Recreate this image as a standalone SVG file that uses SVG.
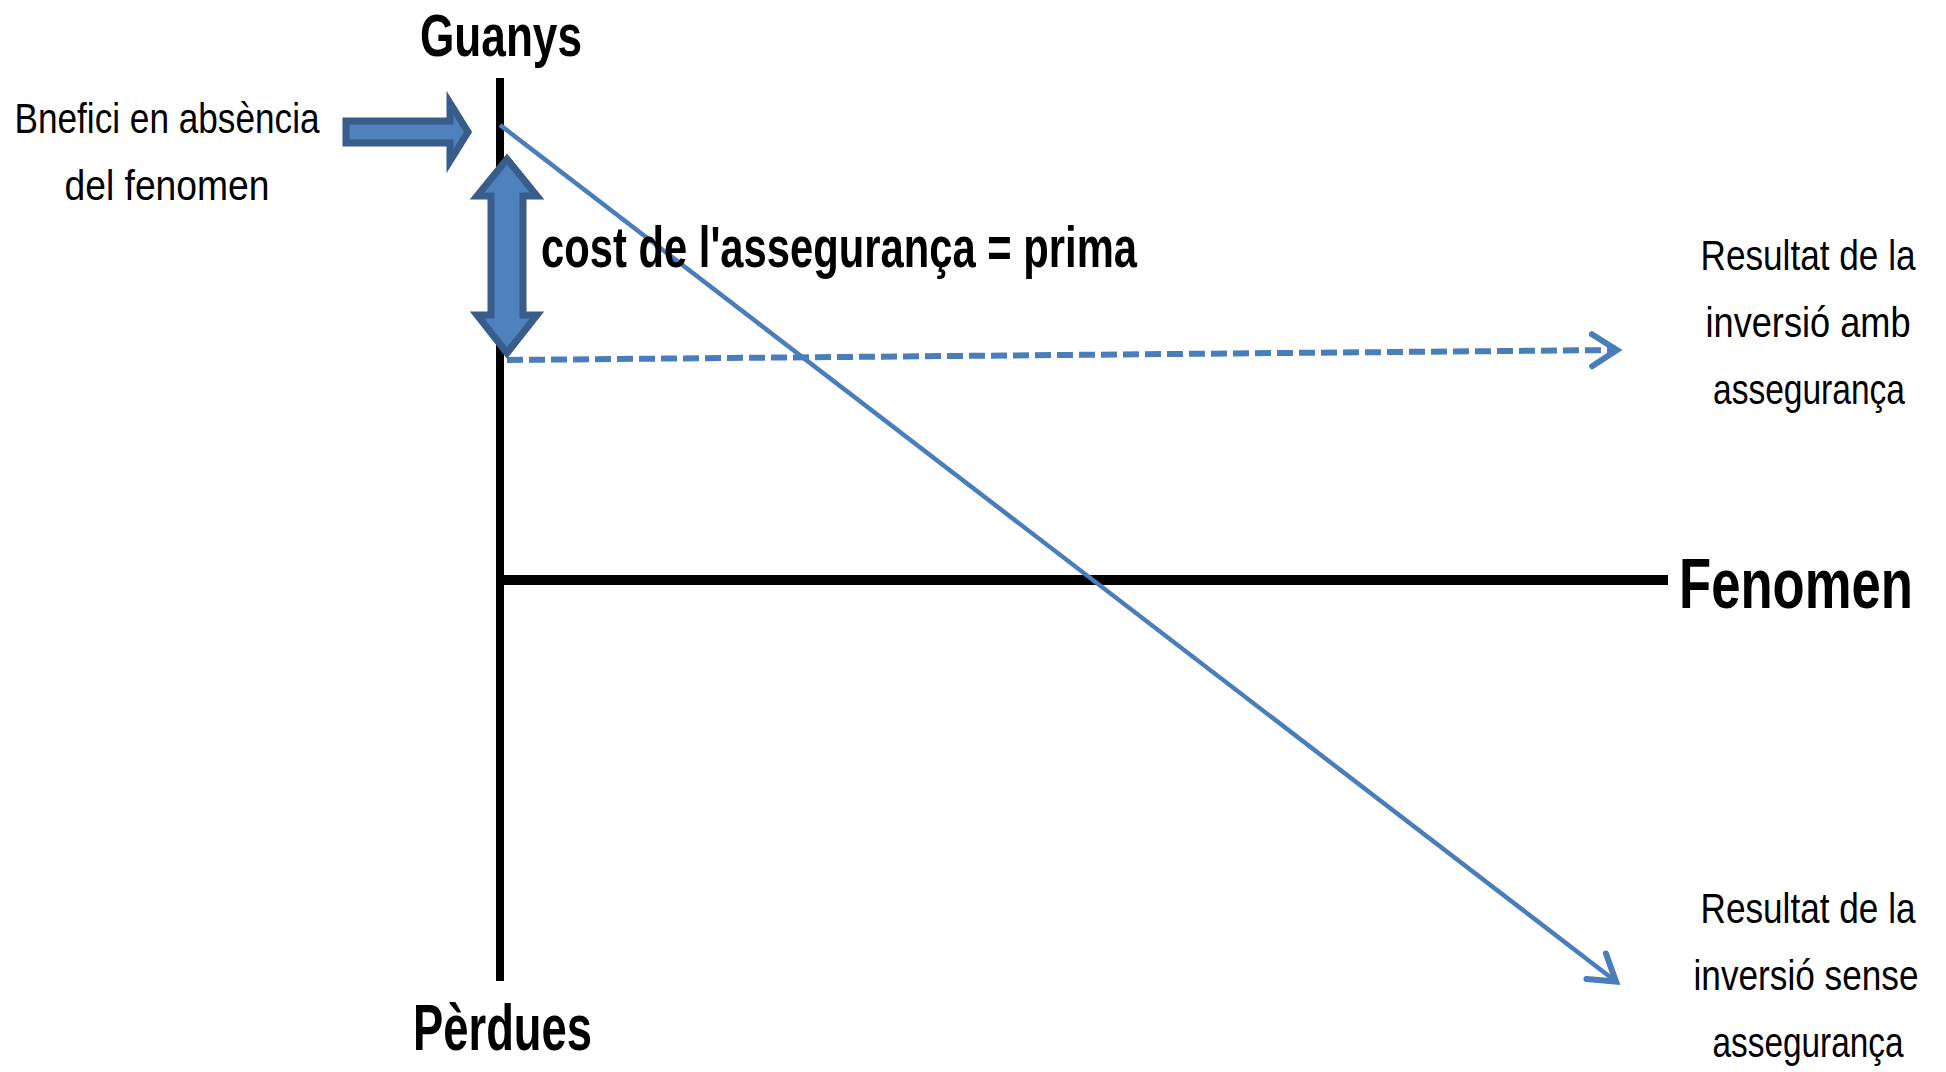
<svg xmlns="http://www.w3.org/2000/svg" width="1946" height="1072" viewBox="0 0 1946 1072">
  <style>
    .bold { font-family: "Liberation Sans", Arial, sans-serif; font-weight: bold; fill: #000; }
    .reg { font-family: "Liberation Sans", Arial, sans-serif; font-size: 35px; fill: #000; text-anchor: middle; }
    .axis { stroke: #000; fill: none; }
    .conn { stroke: #4A7EBB; fill: none; }
    .block { fill: #4F81BD; stroke: #385D8A; stroke-width: 7; stroke-linejoin: miter; }
  </style>
  <defs>
    <marker id="open" markerUnits="userSpaceOnUse" viewBox="-30 -20 34 40" refX="0" refY="0" markerWidth="34" markerHeight="40" orient="auto" overflow="visible">
      <path d="M-25,-16 L0,0 L-25,16" fill="none" stroke="#4A7EBB" stroke-width="6" stroke-linecap="round" stroke-linejoin="miter"/>
    </marker>
  </defs>
  <rect width="1946" height="1072" fill="#fff"/>

  <g id="axes">
    <line class="axis" x1="500" y1="78" x2="500" y2="981" stroke-width="8"/>
    <line class="axis" x1="500" y1="580" x2="1668" y2="580" stroke-width="10"/>
  </g>

  <g id="connectors">
    <line class="conn" x1="500" y1="125" x2="1616" y2="981.5" stroke-width="4.5" marker-end="url(#open)"/>
    <line class="conn" x1="507" y1="360" x2="1617" y2="350" stroke-width="6" stroke-dasharray="16 6" marker-end="url(#open)"/>
  </g>

  <g id="benefit-arrow">
    <polygon class="block" points="346,121 450,121 450,103 468,132 450,161 450,143 346,143"/>
  </g>

  <g id="premium-arrow">
    <polygon class="block" points="507,159 537,196 523,196 523,315 537,315 507,353 477,315 491,315 491,196 477,196"/>
  </g>

  <g id="label-guanys">
    <text class="bold" transform="translate(420,56) scale(1,1.357)" font-size="44.2" textLength="162" lengthAdjust="spacingAndGlyphs">Guanys</text>
  </g>
  <g id="label-perdues">
    <text class="bold" transform="translate(413,1050) scale(1,1.43)" font-size="45.4" textLength="179" lengthAdjust="spacingAndGlyphs">Pèrdues</text>
  </g>
  <g id="label-fenomen">
    <text class="bold" transform="translate(1679,608) scale(1,1.33)" font-size="52.6" textLength="234" lengthAdjust="spacingAndGlyphs">Fenomen</text>
  </g>
  <g id="label-cost">
    <text class="bold" transform="translate(541,267) scale(1,1.39)" font-size="41.8" textLength="596" lengthAdjust="spacingAndGlyphs">cost de l'assegurança = prima</text>
  </g>
  <g id="label-benefici">
    <text class="reg" transform="translate(167,133) scale(1,1.2)" textLength="305" lengthAdjust="spacingAndGlyphs">Bnefici en absència</text>
    <text class="reg" transform="translate(167,200) scale(1,1.2)" textLength="205" lengthAdjust="spacingAndGlyphs">del fenomen</text>
  </g>
  <g id="label-amb">
    <text class="reg" transform="translate(1808,270) scale(1,1.2)" textLength="215" lengthAdjust="spacingAndGlyphs">Resultat de la</text>
    <text class="reg" transform="translate(1808,337) scale(1,1.2)" textLength="205" lengthAdjust="spacingAndGlyphs">inversió amb</text>
    <text class="reg" transform="translate(1809,404) scale(1,1.2)" textLength="192" lengthAdjust="spacingAndGlyphs">assegurança</text>
  </g>
  <g id="label-sense">
    <text class="reg" transform="translate(1808,923) scale(1,1.2)" textLength="215" lengthAdjust="spacingAndGlyphs">Resultat de la</text>
    <text class="reg" transform="translate(1806,990) scale(1,1.2)" textLength="225" lengthAdjust="spacingAndGlyphs">inversió sense</text>
    <text class="reg" transform="translate(1808,1057) scale(1,1.2)" textLength="191" lengthAdjust="spacingAndGlyphs">assegurança</text>
  </g>
</svg>
